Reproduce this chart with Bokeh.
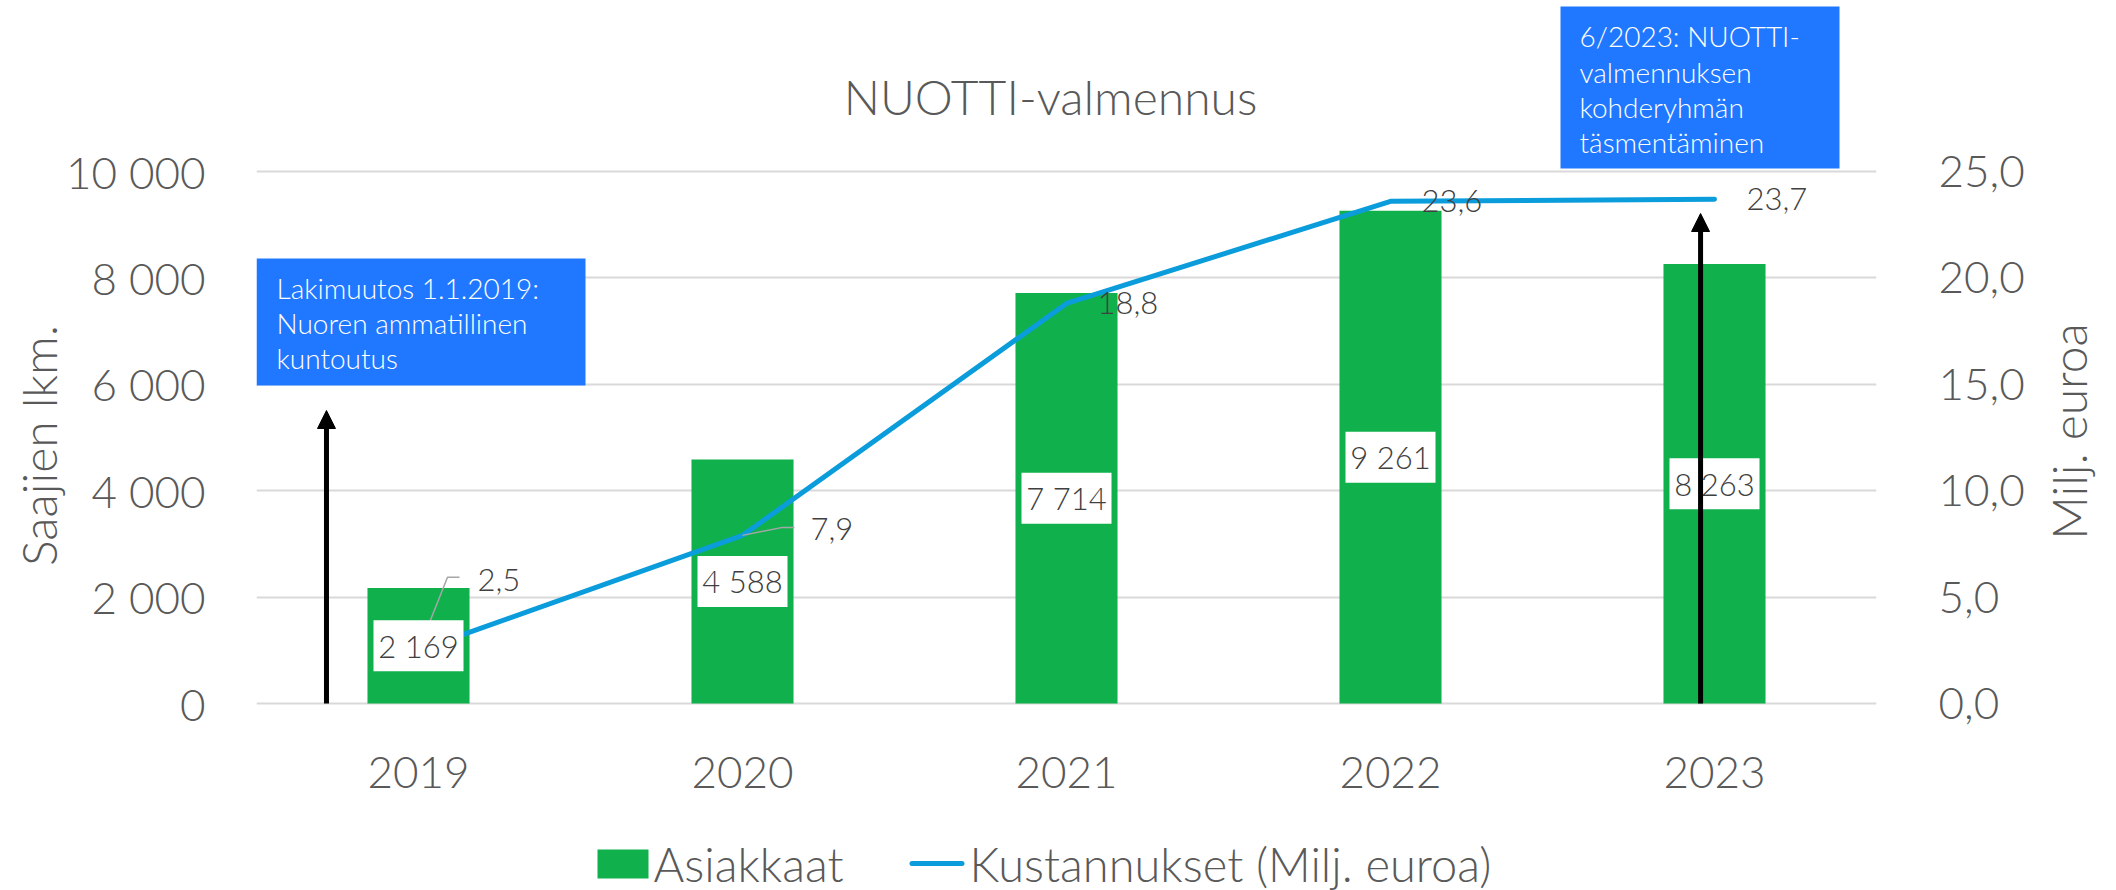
import math
from bokeh.plotting import figure
from bokeh.layouts import row
from bokeh.models import (Range1d, LinearAxis, FixedTicker, ColumnDataSource, Arrow,
                          NormalHead)
from bokeh.core.properties import value
from bokeh.embed import file_html
from bokeh.resources import INLINE

# ---------------- data ----------------
years = ["2019", "2020", "2021", "2022", "2023"]
clients = [2169, 4588, 7714, 9261, 8263]          # Asiakkaat (left axis)
costs = [2.5, 7.9, 18.8, 23.6, 23.7]              # Kustannukset, Milj. euroa (right axis)
left_ticks = [0, 2000, 4000, 6000, 8000, 10000]
right_ticks = [0, 5, 10, 15, 20, 25]
title_text = "NUOTTI-valmennus"
left_title = "Saajien lkm."
right_title = "Milj. euroa"
legend_labels = ["Asiakkaat", "Kustannukset (Milj. euroa)"]
note1_lines = ["Lakimuutos 1.1.2019:", "Nuoren ammatillinen", "kuntoutus"]
note2_lines = ["6/2023: NUOTTI-", "valmennuksen", "kohderyhmän", "täsmentäminen"]

# ---------------- style / layout ----------------
FONT = "Lato Light, Lato"
GREEN = "#10B04C"
BLUE = "#0B9DDB"
NOTE_BLUE = "#1F78FF"
AXIS_TXT = "#595959"
LABEL_TXT = "#404040"
GRID = "#D9D9D9"

W, H = 2116, 890
SIDE_W = 84               # strip on the right holding the right axis title
MAIN_W = W - SIDE_W
FL, FR = 256, 1876        # frame left / right (px); frame spans full height
ZERO = 703                # px of the zero line
GT = 171                  # px of the highest gridline
LEFT_MAX = left_ticks[-1]
RIGHT_MAX = right_ticks[-1]
n = len(years)
UNIT = (FR - FL) / n


def X(px):
    return -0.5 + (px - FL) / UNIT


def Y(py):
    return (ZERO - py) * LEFT_MAX / (ZERO - GT)


def Y2(py):
    return (ZERO - py) * RIGHT_MAX / (ZERO - GT)


p = figure(width=MAIN_W, height=H, x_range=Range1d(-0.5, n - 0.5), y_range=Range1d(Y(H), Y(0)),
           output_backend="svg", toolbar_location=None, x_axis_location=None,
           min_border_left=FL, min_border_right=MAIN_W - FR, min_border_top=0,
           min_border_bottom=0)
p.extra_y_ranges = {"cost": Range1d(Y2(H), Y2(0))}
p.outline_line_color = None
p.background_fill_color = "white"
p.border_fill_color = "white"

xs = list(range(n))

# y axes
p.yaxis.ticker = FixedTicker(ticks=left_ticks)
p.yaxis.major_label_overrides = {t: f"{t:,}".replace(",", " ") for t in left_ticks}
p.yaxis.axis_label = left_title
p.yaxis.axis_label_standoff = -4
raxis = LinearAxis(y_range_name="cost", ticker=FixedTicker(ticks=right_ticks),
                   major_label_overrides={t: f"{t:.1f}".replace(".", ",") for t in right_ticks})
p.add_layout(raxis, "right")

for ax in [p.yaxis[0], raxis]:
    ax.axis_line_color = None
    ax.major_tick_line_color = None
    ax.minor_tick_line_color = None
    ax.major_tick_in = 0
    ax.major_tick_out = 0
    ax.major_label_text_font = FONT
    ax.major_label_text_font_size = "44px"
    ax.major_label_text_color = AXIS_TXT
    ax.axis_label_text_font = FONT
    ax.axis_label_text_font_size = "48px"
    ax.axis_label_text_font_style = "normal"
    ax.axis_label_text_color = AXIS_TXT
p.yaxis.major_label_standoff = 51
raxis.major_label_standoff = 62

p.xgrid.grid_line_color = None
p.ygrid.ticker = FixedTicker(ticks=left_ticks)
p.ygrid.grid_line_color = GRID
p.ygrid.grid_line_width = 2

# data source
src = ColumnDataSource(dict(
    x=xs,
    year=years,
    zero=[0] * n,
    clients=clients,
    half=[c / 2 for c in clients],
    clab=[f"{c:,}".replace(",", " ") for c in clients],
    costs=costs,
    klab=[f"{c:.1f}".replace(".", ",") for c in costs],
    dx=[59, 68, 31, 31, 32],
    dy=[-70, -6, 0, 0, 0],
))

bars = p.vbar(x="x", top="clients", width=0.315, fill_color=GREEN, line_color=None, source=src)
line = p.line(x="x", y="costs", y_range_name="cost", line_color=BLUE, line_width=5,
              line_cap="round", line_join="round", source=src)

# category labels (x axis)
p.text(x="x", y="zero", text="year", y_offset=69, text_align="center", text_baseline="middle",
       text_font=value(FONT), text_font_size="44px", text_color=AXIS_TXT, source=src)

# leader lines for the two moved cost labels (pixel offsets from the point)
leader_px = {0: [(0, 0), (29, -73), (41, -73)], 1: [(0, 0), (40, -8), (52, -8)]}
lx, ly = [], []
for i, pts in leader_px.items():
    lx.append([xs[i] + dx / UNIT for dx, dy in pts])
    ly.append([costs[i] - dy * RIGHT_MAX / (ZERO - GT) for dx, dy in pts])
p.multi_line(xs=lx, ys=ly, y_range_name="cost", line_color="#A6A6A6", line_width=1.5)

# bar value labels
p.rect(x="x", y="half", width=90, height=51, width_units="screen", height_units="screen",
       fill_color="white", line_color=None, source=src)
p.text(x="x", y="half", text="clab", text_align="center", text_baseline="middle",
       text_font=value(FONT), text_font_size="31px", text_color=LABEL_TXT, source=src)

# cost labels
p.text(x="x", y="costs", y_range_name="cost", text="klab", x_offset="dx", y_offset="dy",
       text_align="left", text_baseline="middle", text_font=value(FONT),
       text_font_size="31px", text_color=LABEL_TXT, source=src)

# arrows
head = dict(size=18, fill_color="black", line_color="black")
p.add_layout(Arrow(end=NormalHead(**head), x_start=xs[0] - 0.284, y_start=0,
                   x_end=xs[0] - 0.284, y_end=Y(410), line_width=5, line_color="black"))
p.add_layout(Arrow(end=NormalHead(**head), x_start=xs[4] - 0.043, y_start=0,
                   x_end=xs[4] - 0.043, y_end=Y(213), line_width=5, line_color="black"))

# note boxes
p.quad(left=[X(256), X(1560)], right=[X(585), X(1839)], top=[Y(258), Y(6)],
       bottom=[Y(385), Y(168)], fill_color=NOTE_BLUE, line_color=None)
n1y = [287, 322, 357]
n2y = [35, 71, 106, 141]
p.text(x=[X(276)] * len(note1_lines) + [X(1579)] * len(note2_lines),
       y=[Y(v) for v in n1y] + [Y(v) for v in n2y],
       text=note1_lines + note2_lines, text_align="left", text_baseline="middle",
       text_font=value(FONT), text_font_size="28px", text_color="white")

# chart title
p.text(x=[X(1050)], y=[Y(96)], text=[title_text], text_align="center",
       text_baseline="middle", text_font=value(FONT), text_font_size="48px",
       text_color=AXIS_TXT)

# legend (drawn in the plot area)
p.rect(x=[X(622.5)], y=[Y(863.5)], width=51, height=29, width_units="screen",
       height_units="screen", fill_color=GREEN, line_color=None)
p.segment(x0=[X(911.5)], y0=[Y(863)], x1=[X(961.5)], y1=[Y(863)], line_color=BLUE,
          line_width=5, line_cap="round")
p.text(x=[X(653), X(969)], y=[Y(863), Y(863)], text=legend_labels, text_align="left",
       text_baseline="middle", text_font=value(FONT), text_font_size="47px",
       text_color=AXIS_TXT)

# right-hand strip with the right axis title (reads bottom to top)
side = figure(width=SIDE_W, height=H, x_range=Range1d(0, SIDE_W), y_range=Range1d(0, H),
              output_backend="svg", toolbar_location=None, x_axis_location=None,
              y_axis_location=None, min_border=0)
side.outline_line_color = None
side.grid.grid_line_color = None
side.background_fill_color = "white"
side.border_fill_color = "white"
side.text(x=[2068 - MAIN_W], y=[H - 431], text=[right_title], angle=math.pi / 2,
          text_align="center", text_baseline="middle", text_font=value(FONT),
          text_font_size="48px", text_color=AXIS_TXT)

layout = row(p, side, spacing=0)
open("out.html", "w").write(file_html(layout, INLINE))
